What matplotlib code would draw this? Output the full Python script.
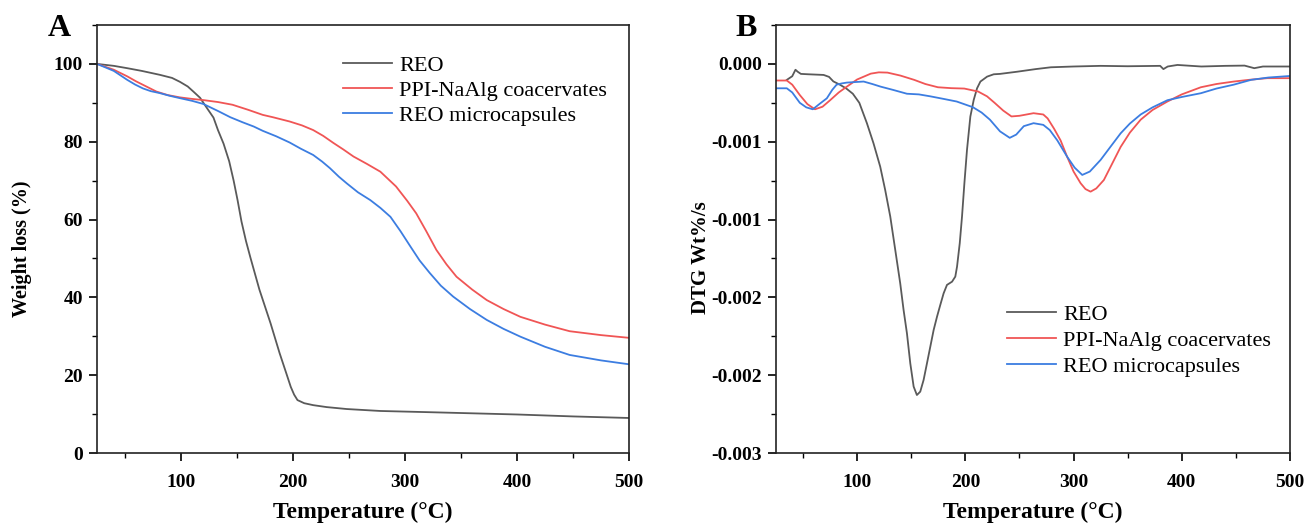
import matplotlib
matplotlib.use("Agg")
import matplotlib.pyplot as plt
from matplotlib.ticker import FixedLocator, FormatStrFormatter, MultipleLocator

plt.rcParams["font.family"] = ["Liberation Serif", "DejaVu Serif"]
plt.rcParams["axes.unicode_minus"] = False

# ---- Panel A: TGA weight loss (%) ----
reo_a_t = [25, 40, 52, 65, 81, 92, 99, 106, 111, 117, 120, 124, 129, 133, 138, 143, 147,
           150.5, 154, 158, 162, 170, 180, 188, 194, 198, 201, 204, 210, 218, 230, 248, 278,
           320, 360, 400, 450, 500]
reo_a_v = [100, 99.5, 98.9, 98.2, 97.2, 96.4, 95.4, 94.2, 92.9, 91.3, 90.0, 88.3, 86.2,
           83.0, 79.5, 75.0, 70.0, 65.0, 59.5, 54.5, 50.2, 42.0, 33.3, 25.7, 20.5, 17.0,
           15.0, 13.6, 12.8, 12.3, 11.8, 11.3, 10.8, 10.5, 10.2, 9.9, 9.4, 9.0]

ppi_a_t = [25, 40, 52, 60, 69, 78, 88, 99, 110, 120, 133, 146, 160, 173, 182, 197, 208,
           218, 227, 236, 245, 254, 266, 278, 292, 302, 310, 319, 328, 337, 346, 360, 373,
           388, 403, 425, 447, 475, 500]
ppi_a_v = [100, 98.5, 96.8, 95.5, 94.2, 92.9, 92.0, 91.4, 91.0, 90.7, 90.2, 89.5, 88.2,
           86.9, 86.3, 85.2, 84.2, 83.0, 81.5, 79.7, 78.0, 76.2, 74.3, 72.3, 68.5, 64.8,
           61.6, 57.0, 52.2, 48.5, 45.3, 42.0, 39.3, 37.0, 35.0, 33.0, 31.3, 30.3, 29.6]

mic_a_t = [25, 40, 52, 59, 66, 73, 81, 90, 99, 110, 120, 133, 144, 155, 165, 173, 185, 197,
           207, 218, 226, 233, 241, 248, 258, 269, 278, 287, 296, 305, 313, 322, 332, 343,
           358, 373, 388, 403, 425, 447, 475, 500]
mic_a_v = [100, 98.2, 95.9, 94.7, 93.7, 93.0, 92.5, 91.8, 91.2, 90.5, 89.7, 87.9, 86.3,
           85.0, 83.9, 82.8, 81.4, 79.8, 78.2, 76.6, 74.9, 73.2, 71.0, 69.3, 67.0, 65.0,
           63.0, 60.7, 57.0, 53.0, 49.5, 46.3, 43.0, 40.2, 37.0, 34.2, 31.9, 29.9, 27.3,
           25.2, 23.8, 22.8]

# ---- Panel B: DTG (Wt%/s) ----
reo_b_t = [35, 40, 43, 45, 48, 55, 69, 74, 78, 84, 90, 96, 102, 109, 115.1, 121.3, 125.9,
           130.6, 135.2, 139.8, 142.9, 146.0, 149.1, 152.2, 155.2, 158.3, 161.4, 164.5,
           167.6, 170.7, 173.8, 176.8, 179.9, 183.0, 187.7, 190.7, 192.3, 194.8, 196.9,
           199.1, 201.5, 204.6, 207.7, 210.8, 213.9, 220.1, 226.2, 232, 248, 265, 279, 300,
           325, 350, 380, 383, 387, 396, 418, 440, 458, 467, 475, 500]
reo_b_v = [-0.000123, -0.000095, -0.000045, -0.000060, -0.000077, -0.000080, -0.000085,
           -0.000100, -0.000135, -0.000160, -0.000190, -0.000230, -0.000300, -0.000457,
           -0.000612, -0.000792, -0.000972, -0.001177, -0.001434, -0.001692, -0.001897,
           -0.002077, -0.002309, -0.002488, -0.002553, -0.002527, -0.002437, -0.002309,
           -0.002180, -0.002051, -0.001949, -0.001859, -0.001769, -0.001704, -0.001679,
           -0.001640, -0.001563, -0.001383, -0.001177, -0.000920, -0.000663, -0.000406,
           -0.000278, -0.000188, -0.000136, -0.000098, -0.000080, -0.000077, -0.000060,
           -0.000040, -0.000026, -0.000020, -0.000015, -0.000018, -0.000015, -0.000040,
           -0.000020, -0.000008, -0.000020, -0.000015, -0.000013, -0.000033, -0.000020,
           -0.000020]

ppi_b_t = [25, 35, 40, 47, 54, 61, 68, 75, 83, 90.5, 100, 112.6, 120, 128, 140, 152.7, 163,
           174.6, 187, 199, 211.8, 220, 227, 235, 242.6, 250, 263, 272, 276, 282, 288, 294,
           300, 306.5, 311, 315.7, 321, 328, 335, 343.5, 352, 362, 373, 386.7, 400, 417.6,
           432, 448, 463, 479, 500]
ppi_b_v = [-0.000128, -0.000128, -0.000160, -0.000240, -0.000310, -0.000350, -0.000330,
           -0.000280, -0.000220, -0.000175, -0.000120, -0.000075, -0.000065, -0.000067,
           -0.000090, -0.000123, -0.000155, -0.000180, -0.000187, -0.000190, -0.000213,
           -0.000250, -0.000300, -0.000360, -0.000405, -0.000400, -0.000380, -0.000390,
           -0.000420, -0.000500, -0.000590, -0.000715, -0.000830, -0.000920, -0.000965,
           -0.000985, -0.000960, -0.000895, -0.000780, -0.000640, -0.000530, -0.000430,
           -0.000355, -0.000290, -0.000235, -0.000180, -0.000155, -0.000136, -0.000122,
           -0.000110, -0.000110]

mic_b_t = [25, 35, 40, 47, 53, 59, 65, 72, 77, 81, 86, 90.5, 98, 106, 114, 121.6, 133, 146,
           157, 167.6, 180, 192, 207, 215, 222.7, 232, 241, 247, 254, 263, 272, 278, 285,
           294, 301, 308, 315, 325, 334, 343.5, 352, 362, 373, 386.7, 400, 417.6, 432, 448,
           464, 480, 500]
mic_b_v = [-0.000188, -0.000188, -0.000220, -0.000300, -0.000335, -0.000350, -0.000310,
           -0.000265, -0.000200, -0.000160, -0.000150, -0.000144, -0.000140, -0.000136,
           -0.000155, -0.000175, -0.000200, -0.000230, -0.000235, -0.000250, -0.000270,
           -0.000290, -0.000334, -0.000375, -0.000430, -0.000520, -0.000570, -0.000545,
           -0.000480, -0.000457, -0.000470, -0.000510, -0.000590, -0.000715, -0.000800,
           -0.000856, -0.000830, -0.000740, -0.000640, -0.000535, -0.000460, -0.000390,
           -0.000335, -0.000280, -0.000255, -0.000226, -0.000190, -0.000160, -0.000123,
           -0.000105, -0.000093]

labels = ["REO", "PPI-NaAlg coacervates", "REO microcapsules"]
colors = ["#5a5a5a", "#f05555", "#3c7de1"]

dtg_ticks = [0.0, -0.0006, -0.0012, -0.0018, -0.0024, -0.003]

fig = plt.figure(figsize=(13.07, 5.26), dpi=100)
ax_a = fig.add_axes([97 / 1307, 73 / 526, 532 / 1307, 428 / 526])
ax_b = fig.add_axes([776 / 1307, 73 / 526, 514 / 1307, 428 / 526])

for t, v, lab, c in zip([reo_a_t, ppi_a_t, mic_a_t], [reo_a_v, ppi_a_v, mic_a_v], labels, colors):
    ax_a.plot(t, v, color=c, lw=1.3, label=lab)
for t, v, lab, c in zip([reo_b_t, ppi_b_t, mic_b_t], [reo_b_v, ppi_b_v, mic_b_v], labels, colors):
    ax_b.plot(t, v, color=c, lw=1.3, label=lab)

ax_a.set_xlim(25, 500)
ax_a.set_ylim(0, 110)
ax_a.yaxis.set_major_locator(MultipleLocator(20))
ax_a.yaxis.set_minor_locator(MultipleLocator(10))
ax_a.set_ylabel("Weight loss (%)", fontsize=14.5, fontweight="bold")
ax_a.yaxis.set_label_coords(-0.122, 0.478)

ax_b.set_xlim(25, 500)
ax_b.set_ylim(-0.003, 0.0003)
ax_b.yaxis.set_major_locator(FixedLocator(dtg_ticks))
ax_b.yaxis.set_minor_locator(MultipleLocator(0.0003))
ax_b.yaxis.set_major_formatter(FormatStrFormatter("%.3f"))
ax_b.set_ylabel("DTG Wt%/s", fontsize=15, fontweight="bold")
ax_b.yaxis.set_label_coords(-0.126, 0.456)

for ax in (ax_a, ax_b):
    ax.xaxis.set_major_locator(MultipleLocator(100))
    ax.xaxis.set_minor_locator(MultipleLocator(50))
    ax.set_xlabel("Temperature (\u00b0C)", fontsize=17, fontweight="bold", labelpad=8)
    ax.tick_params(which="major", direction="out", length=6, width=1.2, labelsize=14, pad=4)
    ax.tick_params(which="minor", direction="out", length=3.5, width=1.0)
    ax.tick_params(axis="x", which="major", pad=9)
    for lbl in ax.get_xticklabels() + ax.get_yticklabels():
        lbl.set_fontweight("bold")
    for s in ax.spines.values():
        s.set_linewidth(1.2)
        s.set_color("#222222")

ax_a.legend(loc="upper left", bbox_to_anchor=(0.462, 0.93), frameon=False, fontsize=16,
            handlelength=2.2, handletextpad=0.35, labelspacing=0.2, borderpad=0,
            borderaxespad=0)
ax_b.legend(loc="upper left", bbox_to_anchor=(0.449, 0.347), frameon=False, fontsize=16,
            handlelength=2.2, handletextpad=0.35, labelspacing=0.25, borderpad=0,
            borderaxespad=0)

fig.text(48 / 1307, 1 - 36 / 526, "A", fontsize=23, fontweight="bold", va="baseline")
fig.text(735 / 1307, 1 - 36 / 526, "B", fontsize=23, fontweight="bold", va="baseline")

fig.savefig("out.png", dpi=100)
